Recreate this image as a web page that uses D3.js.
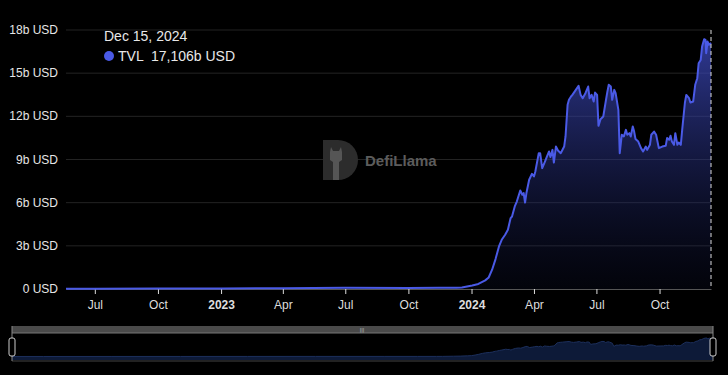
<!DOCTYPE html>
<html>
<head>
<meta charset="utf-8">
<script src="https://cdn.jsdelivr.net/npm/d3@7/dist/d3.min.js"></script>
<style>
body { margin:0; background:#000; }
svg { display:block; font-family:"Liberation Sans", Arial, sans-serif; }
</style>
</head>
<body>
<div class="chart"></div>
<script>
var width = 728,
	height = 375;

// TVL, billions USD
var dates = ["2022-05-20","2022-07-01","2022-10-01","2023-01-01","2023-04-01","2023-07-01","2023-10-01","2023-11-15","2023-12-10","2023-12-18",
	"2024-01-02","2024-01-11","2024-01-21","2024-01-26","2024-01-31","2024-02-05","2024-02-10","2024-02-14","2024-02-19","2024-02-23",
	"2024-02-27","2024-02-29","2024-03-04","2024-03-07","2024-03-12","2024-03-15","2024-03-17","2024-03-19","2024-03-21","2024-03-25",
	"2024-03-29","2024-04-01","2024-04-03","2024-04-08","2024-04-10","2024-04-13","2024-04-17","2024-04-20","2024-04-23","2024-04-25",
	"2024-04-28","2024-04-30","2024-05-03","2024-05-06","2024-05-10","2024-05-15","2024-05-17","2024-05-20","2024-05-22","2024-05-25",
	"2024-05-27","2024-06-01","2024-06-05","2024-06-08","2024-06-11","2024-06-15","2024-06-19","2024-06-21","2024-06-24","2024-06-27",
	"2024-06-29","2024-07-02","2024-07-04","2024-07-07","2024-07-11","2024-07-15","2024-07-17","2024-07-19","2024-07-22","2024-07-24",
	"2024-07-27","2024-07-29","2024-08-02","2024-08-04","2024-08-07","2024-08-10","2024-08-13","2024-08-15","2024-08-18","2024-08-20",
	"2024-08-23","2024-08-25","2024-08-27","2024-08-31","2024-09-04","2024-09-07","2024-09-11","2024-09-13","2024-09-17","2024-09-19",
	"2024-09-23","2024-09-26","2024-09-30","2024-10-05","2024-10-10","2024-10-12","2024-10-15","2024-10-17","2024-10-19","2024-10-22",
	"2024-10-24","2024-10-27","2024-10-29","2024-11-01","2024-11-03","2024-11-07","2024-11-09","2024-11-13","2024-11-15","2024-11-19",
	"2024-11-22","2024-11-25","2024-11-27","2024-11-30","2024-12-02","2024-12-05","2024-12-07","2024-12-08","2024-12-10","2024-12-12",
	"2024-12-15"];
var tvl = [0.02,0.02,0.03,0.04,0.06,0.08,0.07,0.08,0.09,0.11,
	0.25,0.35,0.6,0.8,1.34,2.08,2.96,3.42,3.77,4.12,
	4.93,5.04,5.74,6.08,6.85,6.55,6.67,6.01,6.67,7.59,
	8.0,7.82,8.17,9.44,9.44,8.4,8.86,9.21,9.56,9.17,
	9.67,8.79,9.9,9.63,9.44,9.9,10.6,12.8,13.15,13.38,
	13.49,13.84,14.12,13.49,13.26,13.61,14.07,13.26,13.49,13.03,
	13.65,13.49,11.34,11.8,11.99,13.15,13.72,14.19,14.07,13.15,
	13.84,13.61,12.45,9.44,10.72,10.6,11.06,10.72,10.83,10.6,
	11.29,10.94,10.42,10.25,9.79,9.56,9.9,9.67,10.02,10.72,
	10.94,10.72,9.79,9.9,9.95,10.49,10.37,10.65,10.25,10.02,
	10.83,10.02,10.18,10.02,11.06,12.96,13.49,13.26,12.96,13.03,
	14.19,14.65,15.69,15.92,16.85,17.36,17.31,16.39,17.2,16.97,
	17.106];
var yTicks = [0,3,6,9,12,15,18];
var xTicks = ["2022-07-01","2022-10-01","2023-01-01","2023-04-01","2023-07-01","2023-10-01","2024-01-01","2024-04-01","2024-07-01","2024-10-01"];
var tipDate = "Dec 15, 2024",
	tipText = "TVL  17,106b USD";

var parse = d3.timeParse("%Y-%m-%d");
var data = dates.map(function(d,i){ return {date: parse(d), value: tvl[i]}; });

var svg = d3.select(".chart").append("svg").attr("width", width).attr("height", height);
svg.append("rect").attr("width", width).attr("height", height).attr("fill", "#000");

var plotLeft = 66, plotRight = 711, plotTop = 30, plotBottom = 289;
var x = d3.scaleTime().domain([parse("2022-05-20"), parse("2024-12-15")]).range([plotLeft, plotRight]);
var y = d3.scaleLinear().domain([0,18]).range([plotBottom, plotTop]);

// gradient for the area
var grad = svg.append("defs").append("linearGradient").attr("id","fill").attr("x1",0).attr("x2",0).attr("y1",0).attr("y2",1);
grad.append("stop").attr("offset","0%").attr("stop-color","#3f4cc4").attr("stop-opacity",0.75);
grad.append("stop").attr("offset","100%").attr("stop-color","#141a4a").attr("stop-opacity",0.15);

// grid
svg.append("g").selectAll("line").data(yTicks.slice(1)).enter().append("line")
	.attr("x1", plotLeft).attr("x2", plotRight)
	.attr("y1", function(d){ return y(d); }).attr("y2", function(d){ return y(d); })
	.attr("stroke", "#232323").attr("stroke-width", 1);

// watermark
var wm = svg.append("g");
wm.append("path").attr("d", "M323,140 h15 a20,20 0 0 1 0,40 h-15 z").attr("fill", "#2c2c2c");
wm.append("path").attr("d", "M333,180 v-18 l-3,-2 v-8 l1,-5 l2,4 h6 l2,-4 l1,5 v8 l-3,2 v18 z").attr("fill", "#555");
wm.append("text").attr("x", 365).attr("y", 166).attr("fill", "#5c5c5c").attr("font-size", 15).attr("font-weight", "bold").text("DefiLlama");

// y labels
svg.append("g").selectAll("text").data(yTicks).enter().append("text")
	.attr("x", 58).attr("y", function(d){ return y(d) + 4; })
	.attr("text-anchor", "end").attr("fill", "#e6e6e6").attr("font-size", 12)
	.text(function(d){ return d + (d ? "b" : "") + " USD"; });

// x axis
var xAxis = d3.axisBottom(x)
	.tickValues(xTicks.map(parse))
	.tickSizeInner(5).tickSizeOuter(0).tickPadding(6)
	.tickFormat(function(d){ return d.getMonth() === 0 ? d3.timeFormat("%Y")(d) : d3.timeFormat("%b")(d); });
var gx = svg.append("g").attr("transform", "translate(0," + plotBottom + ")").call(xAxis);
gx.select(".domain").attr("stroke", "#555");
gx.selectAll(".tick line").attr("stroke", "#ddd");
gx.selectAll(".tick text").attr("fill", "#ddd").attr("font-size", 12).attr("font-family", "Liberation Sans, Arial, sans-serif")
	.attr("font-weight", function(d){ return d.getMonth() === 0 ? "bold" : "normal"; });

// area + line
var area = d3.area().x(function(d){ return x(d.date); }).y0(plotBottom).y1(function(d){ return y(d.value); });
var line = d3.line().x(function(d){ return x(d.date); }).y(function(d){ return y(d.value); });
svg.append("path").datum(data).attr("d", area).attr("fill", "url(#fill)");
svg.append("path").datum(data).attr("d", line).attr("fill", "none").attr("stroke", "#4a5ae6").attr("stroke-width", 2).attr("stroke-linejoin", "round");

// crosshair at last point
var last = data[data.length - 1];
svg.append("line").attr("x1", x(last.date)).attr("x2", x(last.date)).attr("y1", plotTop).attr("y2", plotBottom)
	.attr("stroke", "#ddd").attr("stroke-dasharray", "4,3").attr("stroke-width", 1);

// tooltip
svg.append("text").attr("x", 104).attr("y", 41).attr("fill", "#e8e8e8").attr("font-size", 14).text(tipDate);
svg.append("circle").attr("cx", 109).attr("cy", 56).attr("r", 5).attr("fill", "#4a5ae6");
svg.append("text").attr("x", 118).attr("y", 61).attr("fill", "#e8e8e8").attr("font-size", 14).style("white-space", "pre").text(tipText);

// slider (data zoom)
var sx = d3.scaleTime().domain(x.domain()).range([12, 713]);
var sy = d3.scaleLinear().domain([-3.3, 17.4]).range([360, 338]);
svg.append("rect").attr("x", 12).attr("y", 326).attr("width", 701).attr("height", 7).attr("fill", "#4a4a4a");
svg.append("text").attr("x", 362).attr("y", 332).attr("text-anchor", "middle").attr("fill", "#bbb").attr("font-size", 6).text("|||");
svg.append("path").datum(data)
	.attr("d", d3.area().x(function(d){ return sx(d.date); }).y0(360).y1(function(d){ return sy(d.value); }))
	.attr("fill", "#0d1a38");
svg.append("path").datum(data)
	.attr("d", d3.line().x(function(d){ return sx(d.date); }).y(function(d){ return sy(d.value); }))
	.attr("fill", "none").attr("stroke", "#1c2f5c").attr("stroke-width", 1);
svg.append("line").attr("x1", 12).attr("x2", 713).attr("y1", 333).attr("y2", 333).attr("stroke", "#777");
svg.append("line").attr("x1", 12).attr("x2", 713).attr("y1", 361).attr("y2", 361).attr("stroke", "#444");
[12, 713].forEach(function(hx){
	svg.append("line").attr("x1", hx).attr("x2", hx).attr("y1", 326).attr("y2", 361).attr("stroke", "#888");
	svg.append("rect").attr("x", hx - 3).attr("y", 338).attr("width", 6).attr("height", 18).attr("rx", 2)
		.attr("fill", "#000").attr("stroke", "#ccc").attr("stroke-width", 1);
});
</script>
</body>
</html>
